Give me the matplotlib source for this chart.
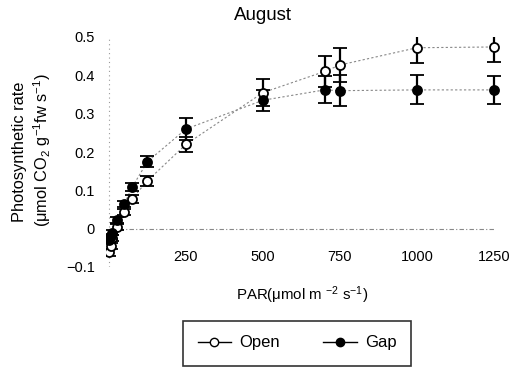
import matplotlib
matplotlib.use("Agg")
import matplotlib.pyplot as plt
from matplotlib.lines import Line2D

plt.rcParams['font.family'] = ['Liberation Sans', 'DejaVu Sans']
plt.rcParams['mathtext.fontset'] = 'custom'
plt.rcParams['mathtext.rm'] = 'Liberation Sans'
plt.rcParams['mathtext.default'] = 'regular'

par = [0, 5, 10, 25, 50, 75, 125, 250, 500, 700, 750, 1000, 1250]
open_rate = [-0.062, -0.045, -0.025, 0.005, 0.043, 0.078, 0.125, 0.22, 0.355, 0.41, 0.427, 0.472, 0.474]
open_err = [0.008, 0.008, 0.008, 0.008, 0.008, 0.01, 0.013, 0.02, 0.035, 0.04, 0.045, 0.04, 0.04]
gap_rate = [-0.03, -0.02, -0.01, 0.022, 0.065, 0.108, 0.175, 0.26, 0.335, 0.362, 0.36, 0.362, 0.362]
gap_err = [0.006, 0.006, 0.006, 0.008, 0.008, 0.01, 0.015, 0.028, 0.028, 0.035, 0.04, 0.038, 0.036]
xticks = [250, 500, 750, 1000, 1250]
yticks = [-0.1, 0, 0.1, 0.2, 0.3, 0.4, 0.5]
ytick_labels = ['\u22120.1', '0', '0.1', '0.2', '0.3', '0.4', '0.5']

W, H = 517, 370
fig = plt.figure(figsize=(W / 100, H / 100), dpi=100)
ax = fig.add_axes([105.9 / W, 1 - 267 / H, 400.4 / W, 230 / H])
ax.set_xlim(-10, 1290)
ax.set_ylim(-0.1, 0.5)

for s in ['top', 'right', 'left']:
    ax.spines[s].set_visible(False)
ax.spines['bottom'].set_position(('data', -0.048))
ax.spines['bottom'].set_visible(False)

ax.axvline(0, color='#999999', lw=0.8, ls=(0, (1, 3)), zorder=0)
ax.hlines(0, 0, par[-1], color='#888888', lw=0.8, ls=(0, (4, 2, 1, 2)), zorder=0)

ax.plot(par, open_rate, color='#888888', lw=0.8, ls=(0, (2, 2)), zorder=1)
ax.plot(par, gap_rate, color='#888888', lw=0.8, ls=(0, (2, 2)), zorder=1)
ax.errorbar(par, open_rate, yerr=open_err, fmt='o', color='black', mfc='white', mec='black',
            ms=6.5, mew=1.3, ecolor='black', elinewidth=1.6, capsize=5, capthick=1.6, zorder=3)
ax.errorbar(par, gap_rate, yerr=gap_err, fmt='o', color='black', mfc='black', mec='black',
            ms=6.5, mew=1.3, ecolor='black', elinewidth=1.6, capsize=5, capthick=1.6, zorder=3)

ax.set_xticks(xticks)
ax.set_xticklabels([str(t) for t in xticks])
ax.set_yticks(yticks)
ax.set_yticklabels(ytick_labels)
ax.tick_params(axis='x', length=0, pad=2, labelsize=10.5)
ax.tick_params(axis='y', length=0, pad=8, labelsize=10.5)

fig.text(263 / W, 1 - 15 / H, 'August', ha='center', va='center', fontsize=13.5)
fig.text(20 / W, 1 - 152 / H, 'Photosynthetic rate', rotation=90, ha='center', va='center', fontsize=11.8)
fig.text(42 / W, 1 - 150 / H, '(\u03bcmol CO$_2$ g$^{-1}$fw s$^{-1}$)', rotation=90,
         ha='center', va='center', fontsize=11.8)
fig.text(302 / W, 1 - 295 / H, 'PAR(\u03bcmol m $^{-2}$ s$^{-1}$)', ha='center', va='center', fontsize=10.8)

handles = [Line2D([0], [0], color='black', lw=1, marker='o', mfc='white', mec='black', ms=6),
           Line2D([0], [0], color='black', lw=1, marker='o', mfc='black', mec='black', ms=6)]
leg = fig.legend(handles, ['Open', 'Gap'], loc='center', bbox_to_anchor=(297 / W, 1 - 343 / H),
                 ncol=2, frameon=True, fancybox=False, edgecolor='black', fontsize=12,
                 handlelength=2.0, columnspacing=2.6, borderpad=0.9, handletextpad=0.5,
                 borderaxespad=0)
leg.get_frame().set_linewidth(1.2)

fig.savefig('out.png', dpi=100)
